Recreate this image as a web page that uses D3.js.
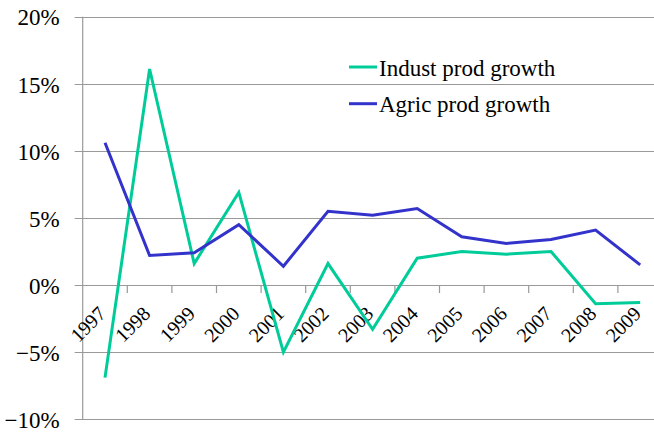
<!DOCTYPE html>
<html>
<head>
<meta charset="utf-8">
<script src="https://cdn.jsdelivr.net/npm/d3@7"></script>
<style>
  body { margin: 0; background: #fff; }
  svg { display: block; }
</style>
</head>
<body>
<script>
// chart data
const years = ["1997", "1998", "1999", "2000", "2001", "2002", "2003",
               "2004", "2005", "2006", "2007", "2008", "2009"];
const industGrowth = [-0.069, 0.161, 0.016, 0.069, -0.050, 0.016, -0.033,
                      0.020, 0.025, 0.023, 0.025, -0.014, -0.013];
const agricGrowth = [0.106, 0.022, 0.024, 0.045, 0.014, 0.055, 0.052,
                     0.057, 0.036, 0.031, 0.034, 0.041, 0.015];
const yTicks = [-0.10, -0.05, 0, 0.05, 0.10, 0.15, 0.20];
const seriesNames = ["Indust prod growth", "Agric prod growth"];

let width = 654;
let height = 432;
let margin = { top: 16.7, bottom: 12.8, left: 82.7, right: -8.5 };

let svg = d3.select("body")
  .append("svg")
  .attr("width", width)
  .attr("height", height);

let xScale = d3.scaleBand()
  .domain(years)
  .range([margin.left, width - margin.right])
  .padding(0);

let yScale = d3.scaleLinear()
  .domain([-0.10, 0.20])
  .range([height - margin.bottom, margin.top]);

let colorScale = d3.scaleOrdinal()
  .domain(seriesNames)
  .range(["#00CC99", "#3333CC"]);

// horizontal gridlines, with the short outward tick on the left
svg.append("g")
  .selectAll("line")
  .data(yTicks)
  .enter()
  .append("line")
  .attr("x1", margin.left - 8)
  .attr("x2", width - margin.right)
  .attr("y1", d => Math.round(yScale(d)) + 0.5)
  .attr("y2", d => Math.round(yScale(d)) + 0.5)
  .attr("stroke", "#999")
  .attr("stroke-width", 1.2);

// vertical axis line
svg.append("line")
  .attr("x1", margin.left)
  .attr("x2", margin.left)
  .attr("y1", yScale(0.20))
  .attr("y2", yScale(-0.10))
  .attr("stroke", "#999")
  .attr("stroke-width", 1.2);

// y axis labels
let yAxis = svg.append("g")
  .attr("transform", `translate(${margin.left}, 0)`)
  .call(d3.axisLeft(yScale).tickValues(yTicks).tickFormat(d3.format(".0%")).tickSize(0).tickPadding(23));
yAxis.attr("font-family", null).attr("font-size", null);
yAxis.select(".domain").remove();
yAxis.selectAll("text")
  .style("font", "23px 'Liberation Serif', serif")
  .attr("fill", "#000")
  .attr("dy", "0.36em");

// x axis ticks at category boundaries on the 0% line
let y0 = yScale(0);
svg.append("g")
  .selectAll("line")
  .data(years.slice(1))
  .enter()
  .append("line")
  .attr("x1", d => xScale(d))
  .attr("x2", d => xScale(d))
  .attr("y1", y0)
  .attr("y2", y0 + 8)
  .attr("stroke", "#999")
  .attr("stroke-width", 1.2);

// rotated year labels
svg.append("g")
  .selectAll("text")
  .data(years)
  .enter()
  .append("text")
  .attr("transform", d => `translate(${xScale(d) + xScale.bandwidth() / 2 + 2}, ${y0 + 30}) rotate(-45)`)
  .attr("text-anchor", "end")
  .style("font", "20px 'Liberation Serif', serif")
  .attr("fill", "#000")
  .text(d => d);

// lines
let line = d3.line()
  .x((d, i) => xScale(years[i]) + xScale.bandwidth() / 2)
  .y(d => yScale(d));

[industGrowth, agricGrowth].forEach((vals, k) => {
  svg.append("path")
    .datum(vals)
    .attr("d", line)
    .attr("fill", "none")
    .attr("stroke", colorScale(seriesNames[k]))
    .attr("stroke-width", 3)
    .attr("stroke-linejoin", "miter");
});

// legend
let legend = svg.selectAll(".legend")
  .data(seriesNames)
  .enter().append("g")
  .attr("class", "legend")
  .attr("transform", (d, i) => `translate(349, ${67 + i * 36.7})`);

legend.append("line")
  .attr("x1", 0)
  .attr("x2", 28)
  .attr("y1", 0)
  .attr("y2", 0)
  .attr("stroke", colorScale)
  .attr("stroke-width", 3);

legend.append("text")
  .attr("x", 30)
  .attr("y", 8.5)
  .style("font", "23px 'Liberation Serif', serif")
  .attr("fill", "#000")
  .text(d => d);
</script>
</body>
</html>
